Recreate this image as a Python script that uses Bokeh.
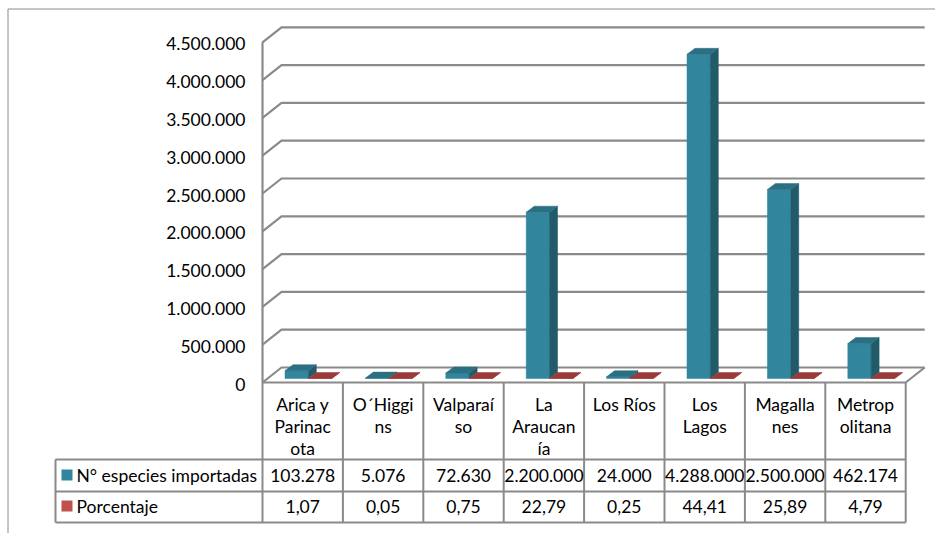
from bokeh.plotting import figure
from bokeh.models import Range1d
from bokeh.embed import file_html
from bokeh.resources import INLINE
from bokeh.core.properties import value

# ---------------- data ----------------
categories = ["Arica y Parinacota", "O´Higgins", "Valparaíso", "La Araucanía",
              "Los Ríos", "Los Lagos", "Magallanes", "Metropolitana"]
header_labels = ["Arica y\nParinac\nota", "O´Higgi\nns", "Valparaí\nso", "La\nAraucan\nía",
                 "Los Ríos", "Los\nLagos", "Magalla\nnes", "Metrop\nolitana"]
especies = [103278, 5076, 72630, 2200000, 24000, 4288000, 2500000, 462174]
porcentaje = [1.07, 0.05, 0.75, 22.79, 0.25, 44.41, 25.89, 4.79]
series_names = ["N° especies importadas", "Porcentaje"]
y_ticks = [0, 500000, 1000000, 1500000, 2000000, 2500000, 3000000, 3500000, 4000000, 4500000]

def fmt_int(v):
    return f"{v:,}".replace(",", ".")

def fmt_dec(v):
    return f"{v:.2f}".replace(".", ",")

tick_labels = [fmt_int(v) for v in y_ticks]
row1 = [fmt_int(v) for v in especies]
row2 = [fmt_dec(v) for v in porcentaje]

# ---------------- layout constants ----------------
W, H = 935, 533
PX_X = 80.4        # pixels per category
PX_Y = 75.6e-6     # pixels per unit value
X0_PX = 262        # frame pixel of category origin
Y0_PX = 382        # frame pixel of value 0 (front floor edge)

def dx(n):
    return n / PX_X

def dy(n):
    return n / PX_Y

FONT = "Lato"
FS = "17.5px"
GRID = "#8a8a8a"

TEAL_FRONT, TEAL_SIDE, TEAL_TOP = "#31859c", "#215a69", "#2a7082"
RED_FRONT, RED_SIDE, RED_TOP = "#c0504d", "#7f2f2d", "#9a3b39"

xr0 = -X0_PX / PX_X
xr1 = (W - X0_PX) / PX_X
yr1 = Y0_PX / PX_Y
yr0 = -(H - Y0_PX) / PX_Y

p = figure(width=W, height=H, output_backend="svg", toolbar_location=None,
           x_range=Range1d(xr0, xr1), y_range=Range1d(yr0, yr1),
           x_axis_type=None, y_axis_type=None, min_border=0)
p.outline_line_color = None
p.background_fill_color = "white"
p.border_fill_color = "white"

n = len(categories)

# chart border (top and left)
p.segment(x0=[xr0 + dx(7.5), xr0 + dx(7.5)], y0=[yr1 - dy(8.5), yr1 - dy(8.5)],
          x1=[xr1, xr0 + dx(7.5)], y1=[yr1 - dy(8.5), yr0],
          line_color="#8c8c8c", line_width=1)

# ---------------- 3D walls ----------------
depth_x, depth_y = dx(19), dy(15)
grid_xs = [[0, depth_x, n + depth_x] for v in y_ticks]
grid_ys = [[v, v + depth_y, v + depth_y] for v in y_ticks]
p.multi_line(grid_xs, grid_ys, line_color=GRID, line_width=2.2)
p.line([0, 0], [0, y_ticks[-1]], line_color=GRID, line_width=2.2)
p.line([n, n + depth_x], [0, depth_y], line_color=GRID, line_width=2.2)

# tick labels
p.text(x=[-dx(17)] * len(y_ticks), y=[v - dy(1.5) for v in y_ticks], text=tick_labels,
       text_align="right", text_baseline="middle", text_font=value(FONT),
       text_font_size=FS, text_color="black")

# ---------------- 3D bars ----------------
bar_off = 0.28
bar_w = 0.29
bdx, bdy = dx(8), dy(6)
base = dy(4)

def draw_series(vals, k, cf, cs, ct):
    fx, fy, sx, sy, tx, ty = [], [], [], [], [], []
    for i, v in enumerate(vals):
        l = i + bar_off + k * bar_w
        r = l + bar_w
        b = base
        t = base + v
        fx.append([l, r, r, l]); fy.append([b, b, t, t])
        sx.append([r, r + bdx, r + bdx, r]); sy.append([b, b + bdy, t + bdy, t])
        tx.append([l, l + bdx, r + bdx, r]); ty.append([t, t + bdy, t + bdy, t])
    p.patches(fx, fy, fill_color=cf, line_color=cf, line_width=0.5)
    p.patches(sx, sy, fill_color=cs, line_color=cs, line_width=0.5)
    p.patches(tx, ty, fill_color=ct, line_color=ct, line_width=0.5)

draw_series(especies, 0, TEAL_FRONT, TEAL_SIDE, TEAL_TOP)
draw_series(porcentaje, 1, RED_FRONT, RED_SIDE, RED_TOP)

# ---------------- data table ----------------
h_bot = -dy(77)
r1_bot = -dy(109)
r2_bot = -dy(140)
leg_left = -dx(207)

p.segment(x0=[0, leg_left, leg_left, leg_left], y0=[0, h_bot, r1_bot, r2_bot],
          x1=[n, n, n, n], y1=[0, h_bot, r1_bot, r2_bot],
          line_color=GRID, line_width=2)
vx = list(range(n + 1))
p.segment(x0=vx, y0=[0] * len(vx), x1=vx, y1=[r2_bot] * len(vx),
          line_color=GRID, line_width=2)
p.segment(x0=[leg_left], y0=[h_bot], x1=[leg_left], y1=[r2_bot],
          line_color=GRID, line_width=2)

centers = [i + 0.5 for i in range(n)]
p.text(x=centers, y=[-dy(11)] * n, text=header_labels, text_align="center",
       text_baseline="top", text_font=value(FONT), text_font_size=FS,
       text_line_height=1.05, text_color="black")
p.text(x=centers, y=[-dy(93)] * n, text=row1, text_align="center",
       text_baseline="middle", text_font=value(FONT), text_font_size=FS, text_color="black")
p.text(x=centers, y=[-dy(124)] * n, text=row2, text_align="center",
       text_baseline="middle", text_font=value(FONT), text_font_size=FS, text_color="black")

p.scatter(x=[-dx(195.5)] * 2, y=[-dy(92.5), -dy(123.5)], marker="square", size=11,
          fill_color=[TEAL_FRONT, RED_FRONT], line_color=None)
p.text(x=[-dx(186)] * 2, y=[-dy(93), -dy(124)], text=series_names, text_align="left",
       text_baseline="middle", text_font=value(FONT), text_font_size=FS, text_color="black")

open("out.html", "w").write(file_html(p, INLINE))
